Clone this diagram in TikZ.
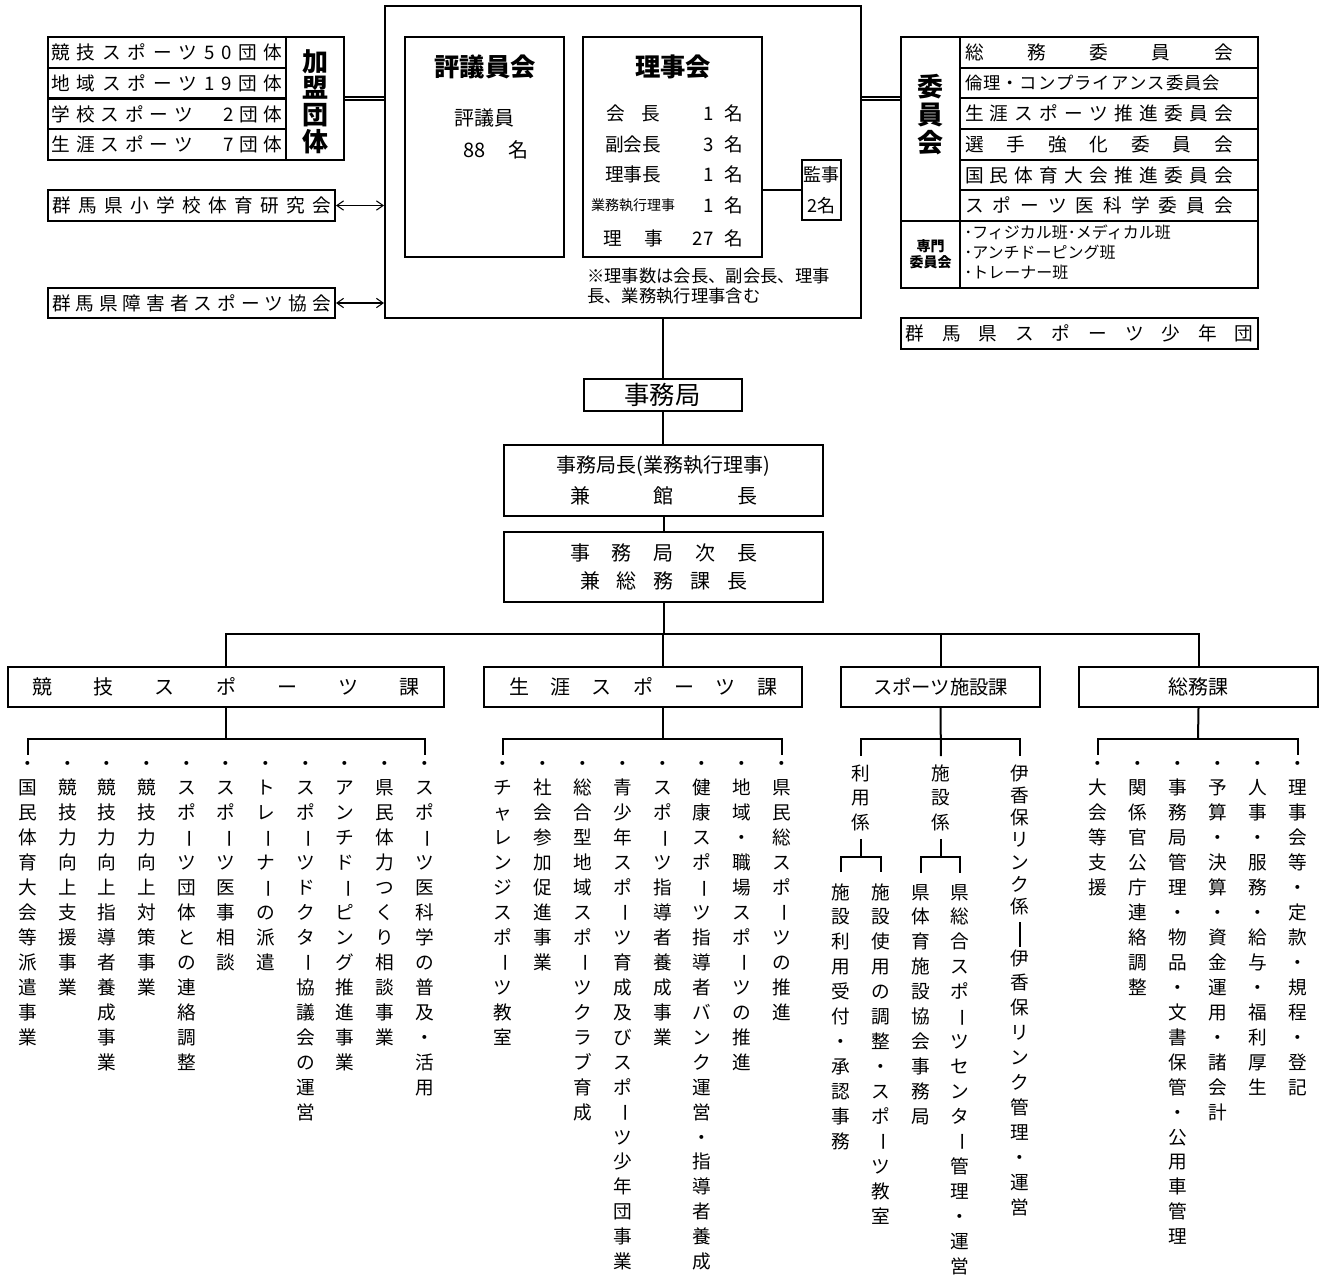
\documentclass[tikz,border=0pt]{standalone}
\usepackage{fontspec}
\setmainfont{Noto Sans CJK JP}
\usepackage{graphicx}
\usetikzlibrary{arrows.meta}

% 1px of the chart
\newdimen\pxu \pxu=0.75pt
\newdimen\vpitch \vpitch=18.7pt
% text spread over a given width (px)
\newcommand\spreadtext[2]{\hbox to #1\pxu{\spreadA#2\relax}}
\def\spreadA#1{#1\spreadB}
\def\spreadB#1{\ifx#1\relax\else\hfill#1\expandafter\spreadB\fi}
% vertical text, one character per line
\newcommand\vchr[1]{\ifx#1ー\raisebox{0.12em}{\rotatebox[origin=c]{-90}{ー}}\else#1\fi}
\newcommand\vcol[1]{\vtop{\baselineskip=\vpitch\lineskiplimit=-\maxdimen\lineskip=0pt\vcolA#1\relax}}
\def\vcolA#1{\ifx#1\relax\else\hbox to 1em{\hss\vchr{#1}\hss}\expandafter\vcolA\fi}

\tikzset{
  box/.style={draw, line width=1.5pt, inner sep=0pt, font=\fontsize{14}{18}\selectfont},
  sz/.style 2 args={minimum width={#1*0.75pt}, minimum height={#2*0.75pt}},
  txt/.style={inner sep=0pt, font=\fontsize{14}{18}\selectfont},
  col/.style={inner sep=0pt, anchor=base, font=\fontsize{14}{18.7}\selectfont},
  ttl/.style={inner sep=0pt, font=\bfseries\fontsize{19}{22}\selectfont},
  link/.style={line width=1.5pt},
  dbl/.style={double, double distance=1.1pt, line width=1.1pt},
  arr/.style={{Straight Barb[length=5pt,width=7pt]}-{Straight Barb[length=5pt,width=7pt]}, line width=0.8pt},
  brk/.style={shorten <=#1, shorten >=#1},
}

\begin{document}
\begin{tikzpicture}[x=0.75pt,y=-0.75pt]
\useasboundingbox (0,0) rectangle (1324,1275);

% 評議員会・理事会
\node[box,sz={476}{312}] (honbu) at (623,162) {};
\node[box,sz={159}{220}] (hyogi) at (484.5,147) {};
\node[ttl] (hyogit) at (485,67) {評議員会};
\node[txt,font=\fontsize{15}{18}\selectfont] (hyogin) at (484,118) {評議員};
\node[txt,font=\fontsize{15}{18}\selectfont] (hyogic) at (496,150) {88\hspace{17pt}名};
\node[box,sz={179}{220}] (riji) at (672.5,147) {};
\node[ttl] (rijit) at (673,67) {理事会};
\node[txt] (r1n) at (633,113) {\spreadtext{54}{会長}};
\node[txt] (r2n) at (633,144) {副会長};
\node[txt] (r3n) at (633,174) {理事長};
\node[txt,font=\fontsize{10.5}{12}\selectfont] (r4n) at (633,205) {業務執行理事};
\node[txt] (r5n) at (633,238) {\spreadtext{60}{理事}};
\node[txt,anchor=east] (r1c) at (743,113) {1\hspace{8pt}名};
\node[txt,anchor=east] (r2c) at (743,144) {3\hspace{8pt}名};
\node[txt,anchor=east] (r3c) at (743,174) {1\hspace{8pt}名};
\node[txt,anchor=east] (r4c) at (743,205) {1\hspace{8pt}名};
\node[txt,anchor=east] (r5c) at (743,238) {27\hspace{8pt}名};
\node[box,sz={39}{60},align=center,font=\fontsize{13.5}{23}\selectfont] (kanji) at (821.5,190) {監事\\2名};
\draw[link] (riji.east |- kanji.west) -- (kanji.west);
\node[txt,anchor=north west,align=left,font=\fontsize{13}{14.5}\selectfont] (chui) at (587,268)
  {※理事数は会長、副会長、理事\\長、業務執行理事含む};

% 加盟団体
\node[box,sz={238}{30.75}] (kamei1) at (167,52.4) {\spreadtext{231}{競技スポーツ50団体}};
\node[box,sz={238}{30.75}] (kamei2) at (167,83.1) {\spreadtext{231}{地域スポーツ19団体}};
\node[box,sz={238}{30.75}] (kamei3) at (167,113.9) {\spreadtext{231}{学校スポーツ　2団体}};
\node[box,sz={238}{30.75}] (kamei4) at (167,144.6) {\spreadtext{231}{生涯スポーツ　7団体}};
\node[box,sz={58}{123}] (kameil) at (315,98.5) {};
\node[col,font=\bfseries\fontsize{19.5}{20}\selectfont] (kameit) at (315,71) {\vpitch=20pt\vcol{加盟団体}};
\draw[dbl] (kameil.east) -- (kameil.east -| honbu.west);

\node[box,sz={287}{31}] (shogakko) at (191.5,205.5) {\spreadtext{279}{群馬県小学校体育研究会}};
\node[box,sz={287}{30}] (shogai) at (191.5,303) {\spreadtext{279}{群馬県障害者スポーツ協会}};
\draw[arr] (shogakko.east) -- (shogakko.east -| honbu.west);
\draw[arr] (shogai.east) -- (shogai.east -| honbu.west);

% 委員会
\node[box,sz={59}{184}] (iinl) at (930.5,129) {};
\node[col,font=\bfseries\fontsize{19.5}{20}\selectfont] (iint) at (930,96.6) {\vpitch=21pt\vcol{委員会}};
\node[box,sz={298}{30.67}] (iin1) at (1109,52.3) {\spreadtext{268}{総務委員会}\kern20\pxu};
\node[box,sz={298}{30.67},font=\fontsize{13}{18}\selectfont] (iin2) at (1109,83) {\spreadtext{255}{倫理・コンプライアンス委員会}\kern33\pxu};
\node[box,sz={298}{30.67}] (iin3) at (1109,113.7) {\spreadtext{268}{生涯スポーツ推進委員会}\kern20\pxu};
\node[box,sz={298}{30.67}] (iin4) at (1109,144.3) {\spreadtext{268}{選手強化委員会}\kern20\pxu};
\node[box,sz={298}{30.67}] (iin5) at (1109,175) {\spreadtext{268}{国民体育大会推進委員会}\kern20\pxu};
\node[box,sz={298}{30.67}] (iin6) at (1109,205.7) {\spreadtext{268}{スポーツ医科学委員会}\kern20\pxu};
\node[box,sz={59}{67},align=center,font=\bfseries\fontsize{10.5}{12}\selectfont] (senl) at (930.5,254.5) {専門\\委員会};
\node[box,sz={298}{67}] (senmon) at (1109,254.5) {};
\node[txt,anchor=west,align=left,font=\fontsize{12}{15}\selectfont] (senmont) at (964,252)
  {･フィジカル班･メディカル班\\･アンチドーピング班\\･トレーナー班};
\draw[dbl] (honbu.east |- kameil.east) -- (iinl.west |- kameil.east);

\node[box,sz={357}{31}] (shonendan) at (1079.5,333.5) {\spreadtext{348}{群馬県スポーツ少年団}};

% 事務局
\node[box,sz={158}{32},font=\fontsize{19}{22}\selectfont] (jimukyoku) at (662.5,395) {事務局};
\node[box,sz={319}{71},align=center,font=\fontsize{15}{23.2}\selectfont] (kyokucho) at (663.5,480.5)
  {事務局長(業務執行理事)\\\spreadtext{187}{兼館長}};
\node[box,sz={319}{70},align=center,font=\fontsize{15}{21}\selectfont] (jicho) at (663.5,567)
  {\spreadtext{187}{事務局次長}\\\spreadtext{167}{兼総務課長}};
\draw[link] (honbu.south -| jimukyoku.north) -- (jimukyoku.north);
\draw[link] (jimukyoku.south) -- (jimukyoku.south |- kyokucho.north);
\draw[link] (kyokucho.south) -- (kyokucho.south |- jicho.north);

% 課
\coordinate (bus) at (663,634);
\node[box,sz={436}{40},font=\fontsize{15}{18}\selectfont] (kyogi) at (226,687) {\spreadtext{387}{競技スポーツ課}};
\node[box,sz={318}{40},font=\fontsize{15}{18}\selectfont] (shogaika) at (643,687) {\spreadtext{268}{生涯スポーツ課}};
\node[box,sz={199}{40},font=\fontsize{14.5}{18}\selectfont] (shisetsu) at (940.5,687) {スポーツ施設課};
\node[box,sz={239}{40},font=\fontsize{15}{18}\selectfont] (somu) at (1198.5,687) {総務課};
\draw[link] (jicho.south) -- (jicho.south |- bus);
\draw[link] (kyogi.north) |- (bus) -| (somu.north);
\draw[link] (bus) -- (bus |- shogaika.north);
\draw[link] (bus -| shisetsu.north) -- (shisetsu.north);

% 競技スポーツ課
\node[col] (k1) at (27.7,770) {\vcol{・国民体育大会等派遣事業}};
\node[col] (k2) at (67.4,770) {\vcol{・競技力向上支援事業}};
\node[col] (k3) at (107.1,770) {\vcol{・競技力向上指導者養成事業}};
\node[col] (k4) at (146.8,770) {\vcol{・競技力向上対策事業}};
\node[col] (k5) at (186.5,770) {\vcol{・スポーツ団体との連絡調整}};
\node[col] (k6) at (226.2,770) {\vcol{・スポーツ医事相談}};
\node[col] (k7) at (265.9,770) {\vcol{・トレーナーの派遣}};
\node[col] (k8) at (305.6,770) {\vcol{・スポーツドクター協議会の運営}};
\node[col] (k9) at (345.3,770) {\vcol{・アンチドーピング推進事業}};
\node[col] (k10) at (385,770) {\vcol{・県民体力つくり相談事業}};
\node[col] (k11) at (424.7,770) {\vcol{・スポーツ医科学の普及・活用}};
\coordinate (kbar) at (226,739);
\draw[link] (kyogi.south) -- (kbar);
\draw[link,brk=4.5pt] (k1.north) |- (kbar) -| (k11.north);

% 生涯スポーツ課
\node[col] (s1) at (503,770) {\vcol{・チャレンジスポーツ教室}};
\node[col] (s2) at (543,770) {\vcol{・社会参加促進事業}};
\node[col] (s3) at (583,770) {\vcol{・総合型地域スポーツクラブ育成}};
\node[col] (s4) at (623,770) {\vcol{・青少年スポーツ育成及びスポーツ少年団事業}};
\node[col] (s5) at (662.5,770) {\vcol{・スポーツ指導者養成事業}};
\node[col] (s6) at (702,770) {\vcol{・健康スポーツ指導者バンク運営・指導者養成}};
\node[col] (s7) at (742,770) {\vcol{・地域・職場スポーツの推進}};
\node[col] (s8) at (782,770) {\vcol{・県民総スポーツの推進}};
\coordinate (sbar) at (663,739);
\draw[link] (bus |- shogaika.south) -- (sbar);
\draw[link,brk=4.5pt] (s1.north) |- (sbar) -| (s8.north);

% スポーツ施設課
\node[col] (riyo) at (861,780) {\vpitch=18.4pt\vcol{利用係}};
\node[col] (shisetsuk) at (941,780) {\vpitch=18.4pt\vcol{施設係}};
\node[col] (ikaho) at (1020,780) {\vpitch=16.7pt\vcol{伊香保リンク係}};
\coordinate (fbar) at (941,739);
\draw[link,shorten >=6pt] (shisetsu.south) -- (shisetsuk.north);
\draw[link,brk=6pt] (riyo.north) |- (fbar) -| (ikaho.north);
\node[col] (f1) at (841,899) {\vcol{施設利用受付・承認事務}};
\node[col] (f2) at (881,899) {\vcol{施設使用の調整・スポーツ教室}};
\node[col] (f3) at (921,899) {\vcol{県体育施設協会事務局}};
\node[col] (f4) at (960,899) {\vcol{県総合スポーツセンター管理・運営}};
\node[col] (ikaho2) at (1020,965) {\vcol{伊香保リンク管理・運営}};
\coordinate (rbar) at (861,857);
\coordinate (tbar) at (941,857);
\draw[link,shorten <=6pt] (riyo.south) -- (rbar);
\draw[link,brk=8pt] (f1.north) |- (rbar) -| (f2.north);
\draw[link,shorten <=6pt] (shisetsuk.south) -- (tbar);
\draw[link,brk=8pt] (f3.north) |- (tbar) -| (f4.north);
\draw[link,shorten <=5pt,shorten >=1.5pt] (ikaho.south) -- (ikaho2.north);

% 総務課
\node[col] (g1) at (1098,770) {\vcol{・大会等支援}};
\node[col] (g2) at (1138,770) {\vcol{・関係官公庁連絡調整}};
\node[col] (g3) at (1178,770) {\vcol{・事務局管理・物品・文書保管・公用車管理}};
\node[col] (g4) at (1218,770) {\vcol{・予算・決算・資金運用・諸会計}};
\node[col] (g5) at (1258,770) {\vcol{・人事・服務・給与・福利厚生}};
\node[col] (g6) at (1298,770) {\vcol{・理事会等・定款・規程・登記}};
\coordinate (gbar) at (1198,739);
\draw[link] (somu.south) -- (gbar);
\draw[link,brk=4.5pt] (g1.north) |- (gbar) -| (g6.north);
\end{tikzpicture}
\end{document}
